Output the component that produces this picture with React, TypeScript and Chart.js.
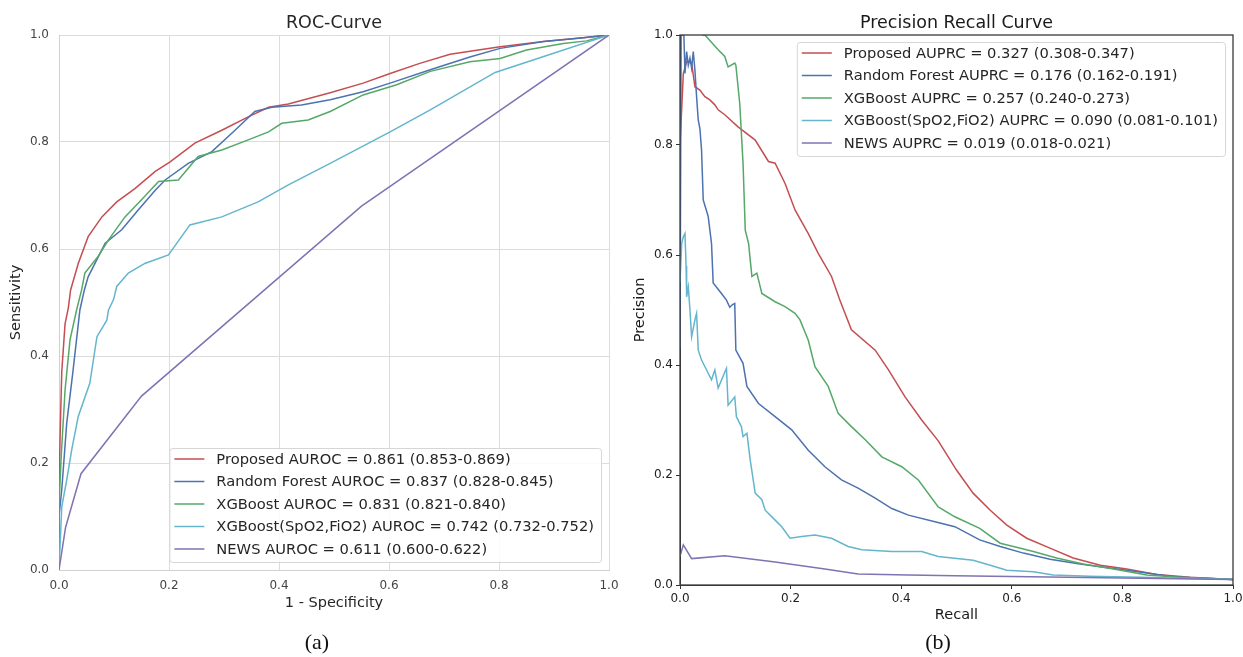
import React, { useEffect, useRef } from "react";
import { Chart, registerables } from "chart.js";

Chart.register(...registerables);

// ---------- shared ----------
const seriesColors = ["#C44E52", "#4C72B0", "#55A868", "#64B5CD", "#8172B2"];
const tickValues = [0, 0.2, 0.4, 0.6, 0.8, 1.0];

// ---------- ROC data (x = 1 - specificity, y = sensitivity) ----------
const rocLabels = [
  "Proposed AUROC = 0.861 (0.853-0.869)",
  "Random Forest AUROC = 0.837 (0.828-0.845)",
  "XGBoost AUROC = 0.831 (0.821-0.840)",
  "XGBoost(SpO2,FiO2) AUROC = 0.742 (0.732-0.752)",
  "NEWS AUROC = 0.611 (0.600-0.622)",
];
const rocProposedFpr = [0, 0, 0.002, 0.005, 0.011, 0.017, 0.021, 0.035, 0.053, 0.078, 0.105, 0.138, 0.175, 0.202, 0.247, 0.296, 0.344, 0.381, 0.417, 0.493, 0.553, 0.602, 0.656, 0.711, 0.802, 0.881, 0.953, 1.0];
const rocProposedTpr = [0, 0.15, 0.25, 0.37, 0.46, 0.49, 0.523, 0.573, 0.623, 0.66, 0.688, 0.713, 0.745, 0.763, 0.798, 0.822, 0.847, 0.865, 0.871, 0.892, 0.91, 0.928, 0.947, 0.964, 0.978, 0.988, 0.995, 1.0];
const rocRfFpr = [0, 0, 0.005, 0.014, 0.025, 0.038, 0.046, 0.053, 0.084, 0.114, 0.144, 0.175, 0.193, 0.235, 0.278, 0.32, 0.356, 0.387, 0.441, 0.493, 0.553, 0.602, 0.675, 0.747, 0.802, 0.881, 0.953, 1.0];
const rocRfTpr = [0, 0.1, 0.15, 0.274, 0.368, 0.486, 0.523, 0.548, 0.611, 0.636, 0.673, 0.71, 0.729, 0.76, 0.782, 0.822, 0.857, 0.865, 0.869, 0.879, 0.894, 0.91, 0.935, 0.959, 0.975, 0.988, 0.995, 1.0];
const rocXgbFpr = [0, 0, 0.004, 0.011, 0.02, 0.032, 0.041, 0.047, 0.071, 0.09, 0.12, 0.15, 0.181, 0.217, 0.253, 0.296, 0.344, 0.381, 0.405, 0.453, 0.493, 0.553, 0.614, 0.675, 0.747, 0.802, 0.85, 0.917, 0.959, 1.0];
const rocXgbTpr = [0, 0.12, 0.212, 0.336, 0.43, 0.486, 0.523, 0.555, 0.586, 0.617, 0.66, 0.692, 0.726, 0.729, 0.773, 0.785, 0.804, 0.819, 0.835, 0.841, 0.857, 0.888, 0.907, 0.932, 0.95, 0.956, 0.972, 0.984, 0.989, 1.0];
const rocSpoFpr = [0, 0.005, 0.014, 0.023, 0.035, 0.056, 0.069, 0.087, 0.09, 0.099, 0.105, 0.126, 0.156, 0.199, 0.238, 0.296, 0.362, 0.417, 0.493, 0.602, 0.675, 0.793, 1.0];
const rocSpoTpr = [0, 0.118, 0.168, 0.224, 0.287, 0.349, 0.436, 0.467, 0.486, 0.505, 0.53, 0.555, 0.573, 0.589, 0.645, 0.66, 0.688, 0.72, 0.76, 0.819, 0.86, 0.93, 1.0];
const rocNewsFpr = [0, 0.012, 0.04, 0.15, 0.55, 1.0];
const rocNewsTpr = [0, 0.08, 0.18, 0.325, 0.68, 1.0];

// ---------- PR data (x = recall, y = precision) ----------
const prLabels = [
  "Proposed AUPRC = 0.327 (0.308-0.347)",
  "Random Forest AUPRC = 0.176 (0.162-0.191)",
  "XGBoost AUPRC = 0.257 (0.240-0.273)",
  "XGBoost(SpO2,FiO2) AUPRC = 0.090 (0.081-0.101)",
  "NEWS AUPRC = 0.019 (0.018-0.021)",
];
const prProposedRecall = [0, 0.006, 0.012, 0.021, 0.027, 0.036, 0.045, 0.054, 0.063, 0.069, 0.081, 0.105, 0.136, 0.16, 0.172, 0.19, 0.208, 0.232, 0.25, 0.274, 0.289, 0.31, 0.353, 0.377, 0.407, 0.437, 0.467, 0.5, 0.53, 0.561, 0.591, 0.627, 0.669, 0.711, 0.76, 0.808, 0.862, 0.922, 1.0];
const prProposedPrecision = [0.8, 0.93, 0.952, 0.949, 0.906, 0.9, 0.888, 0.882, 0.873, 0.864, 0.855, 0.833, 0.809, 0.77, 0.767, 0.73, 0.682, 0.639, 0.603, 0.561, 0.518, 0.464, 0.427, 0.391, 0.342, 0.3, 0.262, 0.209, 0.167, 0.136, 0.109, 0.085, 0.067, 0.049, 0.036, 0.029, 0.019, 0.014, 0.01];
const prRfRecall = [0, 0.002, 0.004, 0.007, 0.009, 0.012, 0.015, 0.018, 0.021, 0.024, 0.027, 0.03, 0.033, 0.036, 0.039, 0.042, 0.051, 0.057, 0.06, 0.075, 0.084, 0.09, 0.095, 0.099, 0.101, 0.114, 0.121, 0.142, 0.172, 0.202, 0.232, 0.262, 0.292, 0.322, 0.353, 0.383, 0.413, 0.461, 0.497, 0.542, 0.579, 0.621, 0.669, 0.723, 0.784, 0.844, 0.892, 1.0];
const prRfPrecision = [0.43, 1.0, 1.0, 1.0, 0.93, 0.97, 0.945, 0.958, 0.94, 0.97, 0.936, 0.888, 0.845, 0.83, 0.79, 0.7, 0.67, 0.621, 0.549, 0.53, 0.518, 0.505, 0.51, 0.512, 0.427, 0.403, 0.361, 0.33, 0.306, 0.282, 0.245, 0.215, 0.191, 0.176, 0.158, 0.139, 0.127, 0.115, 0.106, 0.082, 0.07, 0.058, 0.047, 0.038, 0.03, 0.022, 0.015, 0.01];
const prXgbRecall = [0.04, 0.045, 0.069, 0.081, 0.087, 0.099, 0.101, 0.108, 0.114, 0.118, 0.124, 0.13, 0.139, 0.148, 0.172, 0.19, 0.208, 0.217, 0.232, 0.244, 0.268, 0.286, 0.31, 0.335, 0.365, 0.401, 0.431, 0.467, 0.497, 0.542, 0.579, 0.603, 0.639, 0.681, 0.729, 0.784, 0.844, 0.904, 1.0];
const prXgbPrecision = [1.0, 1.0, 0.973, 0.961, 0.942, 0.949, 0.945, 0.876, 0.767, 0.645, 0.621, 0.561, 0.567, 0.53, 0.515, 0.506, 0.494, 0.482, 0.445, 0.397, 0.361, 0.312, 0.288, 0.264, 0.233, 0.215, 0.191, 0.142, 0.124, 0.103, 0.076, 0.07, 0.061, 0.049, 0.038, 0.029, 0.018, 0.014, 0.01];
const prSpoRecall = [0, 0.003, 0.006, 0.009, 0.011, 0.012, 0.015, 0.018, 0.021, 0.027, 0.03, 0.033, 0.039, 0.051, 0.057, 0.063, 0.069, 0.084, 0.087, 0.099, 0.102, 0.111, 0.114, 0.121, 0.127, 0.136, 0.148, 0.154, 0.172, 0.184, 0.199, 0.22, 0.244, 0.274, 0.304, 0.329, 0.383, 0.437, 0.467, 0.53, 0.561, 0.591, 0.639, 0.675, 0.741, 0.832, 1.0];
const prSpoPrecision = [0.55, 0.621, 0.633, 0.639, 0.58, 0.524, 0.542, 0.5, 0.451, 0.482, 0.494, 0.427, 0.409, 0.385, 0.373, 0.391, 0.358, 0.394, 0.327, 0.342, 0.306, 0.288, 0.27, 0.276, 0.227, 0.167, 0.155, 0.136, 0.118, 0.106, 0.085, 0.088, 0.091, 0.085, 0.07, 0.064, 0.061, 0.061, 0.052, 0.045, 0.036, 0.027, 0.024, 0.018, 0.016, 0.014, 0.01];
const prNewsRecall = [0, 0.006, 0.021, 0.081, 0.172, 0.262, 0.322, 0.413, 0.497, 0.7, 1.0];
const prNewsPrecision = [0.052, 0.073, 0.048, 0.053, 0.042, 0.029, 0.02, 0.018, 0.017, 0.014, 0.01];

const FONT = '"DejaVu Sans", "Liberation Sans", sans-serif';

function toPoints(xs: number[], ys: number[]) {
  return xs.map((x, i) => ({ x, y: ys[i] }));
}

function makeDatasets(labels: string[], series: [number[], number[]][]) {
  return series.map(([xs, ys], i) => ({
    label: labels[i],
    data: toPoints(xs, ys),
    borderColor: seriesColors[i],
    backgroundColor: seriesColors[i],
    borderWidth: 1.5,
    pointRadius: 0,
    showLine: true,
    fill: false,
    tension: 0,
    order: -i,
  }));
}

function insideLegend(anchor: "lower right" | "upper right") {
  return {
    id: "insideLegend",
    afterDatasetsDraw(chart: any) {
      const ctx = chart.ctx as CanvasRenderingContext2D;
      const ca = chart.chartArea;
      const ds = chart.data.datasets;
      ctx.save();
      ctx.font = `14.7px ${FONT}`;
      const maxW = Math.max(...ds.map((d: any) => ctx.measureText(d.label).width));
      const rowH = 22.5;
      const w = 5 + 30 + 12 + maxW + 7;
      const h = 11 + rowH * (ds.length - 1) + 13;
      const x = ca.right - 8 - w;
      const y = anchor === "lower right" ? ca.bottom - 8 - h : ca.top + 7;
      ctx.beginPath();
      (ctx as any).roundRect(x + 0.5, y + 0.5, w, h, 3);
      ctx.fillStyle = "rgba(255,255,255,0.85)";
      ctx.fill();
      ctx.strokeStyle = "#d6d6d6";
      ctx.lineWidth = 1;
      ctx.stroke();
      ds.forEach((d: any, i: number) => {
        const cy = y + 11 + i * rowH;
        ctx.beginPath();
        ctx.moveTo(x + 5, cy);
        ctx.lineTo(x + 35, cy);
        ctx.strokeStyle = d.borderColor;
        ctx.lineWidth = 1.5;
        ctx.stroke();
        ctx.fillStyle = "#262626";
        ctx.textAlign = "left";
        ctx.textBaseline = "middle";
        ctx.fillText(d.label, x + 47, cy + 1);
      });
      ctx.restore();
    },
  };
}

const boxPlugin = {
  id: "boxFrame",
  afterDatasetsDraw(chart: any) {
    const { ctx, chartArea: ca } = chart;
    ctx.save();
    ctx.strokeStyle = "#3a3a3a";
    ctx.lineWidth = 1.3;
    ctx.strokeRect(ca.left, ca.top, ca.right - ca.left, ca.bottom - ca.top);
    ctx.restore();
  },
};

function fmt(v: any) {
  return Number(v).toFixed(1);
}

function fixX(h: number) {
  return (s: any) => {
    s.height = h;
    s.paddingLeft = 0;
    s.paddingRight = 0;
  };
}
function fixY(w: number) {
  return (s: any) => {
    s.width = w;
    s.paddingTop = 0;
    s.paddingBottom = 0;
  };
}

function RocChart() {
  const ref = useRef<HTMLCanvasElement | null>(null);
  useEffect(() => {
    if (!ref.current) return;
    const grid = { color: "#dcdcdc", lineWidth: 1, drawTicks: false };
    const chart = new Chart(ref.current, {
      type: "scatter",
      data: {
        datasets: makeDatasets(rocLabels, [
          [rocProposedFpr, rocProposedTpr],
          [rocRfFpr, rocRfTpr],
          [rocXgbFpr, rocXgbTpr],
          [rocSpoFpr, rocSpoTpr],
          [rocNewsFpr, rocNewsTpr],
        ]) as any,
      },
      options: {
        responsive: false,
        animation: false,
        layout: { padding: { left: 0, right: 11, top: 0, bottom: 0 } },
        plugins: {
          legend: { display: false },
          tooltip: { enabled: false },
          title: {
            display: true,
            text: "ROC-Curve",
            fullSize: false,
            color: "#262626",
            font: { family: FONT, size: 17.5, weight: "normal" as any },
            padding: { top: 12.5, bottom: 1.5 },
          },
        },
        scales: {
          x: {
            type: "linear",
            min: 0,
            max: 1,
            afterBuildTicks: (s: any) => { s.ticks = tickValues.map((v) => ({ value: v })); },
            afterFit: fixX(60),
            grid,
            border: { display: true, color: "#d0d0d0" },
            ticks: { color: "#444", padding: 8.5, font: { family: FONT, size: 12 }, callback: fmt },
            title: { display: true, text: "1 - Specificity", color: "#262626", font: { family: FONT, size: 14.5 }, padding: { top: 0, bottom: 18.3 } },
          },
          y: {
            type: "linear",
            min: 0,
            max: 1,
            afterBuildTicks: (s: any) => { s.ticks = tickValues.map((v) => ({ value: v })); },
            afterFit: fixY(59),
            grid,
            border: { display: true, color: "#d0d0d0" },
            ticks: { color: "#444", padding: 10, font: { family: FONT, size: 12 }, callback: fmt },
            title: { display: true, text: "Sensitivity", color: "#262626", font: { family: FONT, size: 14.5 }, padding: { top: 8, bottom: 0 } },
          },
        },
      },
      plugins: [insideLegend("lower right")],
    } as any);
    return () => chart.destroy();
  }, []);
  return <canvas ref={ref} width={620} height={630} style={{ position: "absolute", left: 0, top: 0, width: 620, height: 630 }} />;
}

function PrChart() {
  const ref = useRef<HTMLCanvasElement | null>(null);
  useEffect(() => {
    if (!ref.current) return;
    const grid = { drawOnChartArea: false, drawTicks: true, tickLength: 4, color: "#333", lineWidth: 1 };
    const chart = new Chart(ref.current, {
      type: "scatter",
      data: {
        datasets: makeDatasets(prLabels, [
          [prProposedRecall, prProposedPrecision],
          [prRfRecall, prRfPrecision],
          [prXgbRecall, prXgbPrecision],
          [prSpoRecall, prSpoPrecision],
          [prNewsRecall, prNewsPrecision],
        ]) as any,
      },
      options: {
        responsive: false,
        animation: false,
        layout: { padding: { left: 0, right: 10, top: 0, bottom: 0 } },
        plugins: {
          legend: { display: false },
          tooltip: { enabled: false },
          title: {
            display: true,
            text: "Precision Recall Curve",
            fullSize: false,
            color: "#1a1a1a",
            font: { family: FONT, size: 17.5, weight: "normal" as any },
            padding: { top: 12.5, bottom: 1.5 },
          },
        },
        scales: {
          x: {
            type: "linear",
            min: 0,
            max: 1,
            afterBuildTicks: (s: any) => { s.ticks = tickValues.map((v) => ({ value: v })); },
            afterFit: fixX(45),
            grid,
            border: { display: true, color: "#3a3a3a" },
            ticks: { color: "#222", padding: 2.5, font: { family: FONT, size: 12 }, callback: fmt },
            title: { display: true, text: "Recall", color: "#1a1a1a", font: { family: FONT, size: 14.5 }, padding: { top: 0, bottom: 5.6 } },
          },
          y: {
            type: "linear",
            min: 0,
            max: 1,
            afterBuildTicks: (s: any) => { s.ticks = tickValues.map((v) => ({ value: v })); },
            afterFit: fixY(60),
            grid,
            border: { display: true, color: "#3a3a3a" },
            ticks: { color: "#222", padding: 3, font: { family: FONT, size: 12 }, callback: fmt },
            title: { display: true, text: "Precision", color: "#1a1a1a", font: { family: FONT, size: 14.5 }, padding: { top: 11.3, bottom: 0 } },
          },
        },
      },
      plugins: [boxPlugin, insideLegend("upper right")],
    } as any);
    return () => chart.destroy();
  }, []);
  return <canvas ref={ref} width={623} height={630} style={{ position: "absolute", left: 620, top: 0, width: 623, height: 630 }} />;
}

const captionStyle: React.CSSProperties = {
  position: "absolute",
  top: 631,
  width: 80,
  textAlign: "center",
  fontFamily: '"Liberation Serif", "Times New Roman", serif',
  fontSize: 22,
  lineHeight: "22px",
  color: "#111",
};

export default function App() {
  return (
    <div style={{ position: "absolute", left: 0, top: 0, width: 1243, height: 657, background: "#fff", overflow: "hidden" }}>
      <RocChart />
      <PrChart />
      <div style={{ ...captionStyle, left: 317 - 40 }}>(a)</div>
      <div style={{ ...captionStyle, left: 938 - 40 }}>(b)</div>
    </div>
  );
}
